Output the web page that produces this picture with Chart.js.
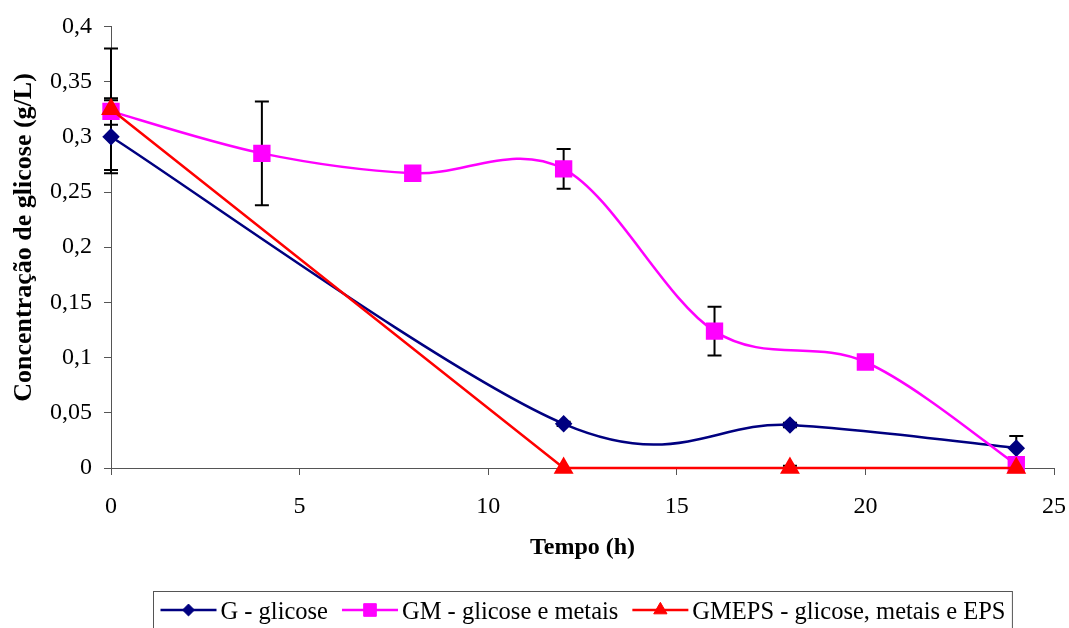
<!DOCTYPE html>
<html>
<head>
<meta charset="utf-8">
<script src="https://cdn.jsdelivr.net/npm/chart.js@4.4.1/dist/chart.umd.min.js"></script>
<style>
  body { margin: 0; background: #fff; }
</style>
</head>
<body>
<canvas id="chart" width="1069" height="628"></canvas>
<script>
// tempo (h) e concentração de glicose (g/L), com desvio
const timeG = [0, 12, 18, 24];
const glicoseG = [0.300, 0.040, 0.039, 0.018];
const errG = [0.033, 0.002, 0.002, 0.011];

const timeGM = [0, 4, 8, 12, 16, 20, 24];
const glicoseGM = [0.323, 0.285, 0.267, 0.271, 0.124, 0.096, 0.003];
const errGM = [0.012, 0.047, 0.005, 0.018, 0.022, 0.003, 0.003];

const timeGMEPS = [0, 12, 18, 24];
const glicoseGMEPS = [0.325, 0, 0, 0];
const errGMEPS = [0.055, 0, 0.002, 0];

const xTicks = [0, 5, 10, 15, 20, 25];
const yTicks = [0, 0.05, 0.1, 0.15, 0.2, 0.25, 0.3, 0.35, 0.4];

const seriesLabels = ['G - glicose', 'GM - glicose e metais', 'GMEPS - glicose, metais e EPS'];

const FONT = 'Liberation Serif, Times New Roman, serif';

function points(xs, ys) {
    return xs.map((x, i) => ({ x: x, y: ys[i] }));
}

function fmt(v) {
    return String(+v.toFixed(2)).replace('.', ',');
}

// suavização parecida com a do Excel (Catmull-Rom, 1/6)
const excelSmooth = {
    id: 'excelSmooth',
    beforeDatasetsDraw(chart) {
        chart.data.datasets.forEach((ds, di) => {
            if (!ds.smooth) return;
            const meta = chart.getDatasetMeta(di);
            meta.dataset.updateControlPoints(chart.chartArea, 'x');
            const pts = meta.data;
            pts.forEach((p, i) => {
                const prev = pts[Math.max(i - 1, 0)];
                const next = pts[Math.min(i + 1, pts.length - 1)];
                const dx = (next.x - prev.x) / 6;
                const dy = (next.y - prev.y) / 6;
                p.cp1x = p.x - dx; p.cp1y = p.y - dy;
                p.cp2x = p.x + dx; p.cp2y = p.y + dy;
            });
        });
    }
};

// barras de erro desenhadas por baixo dos marcadores
const errorBars = {
    id: 'errorBars',
    beforeDatasetsDraw(chart) {
        const ctx = chart.ctx;
        const xs = chart.scales.x;
        const ys = chart.scales.y;
        ctx.save();
        ctx.strokeStyle = '#000';
        ctx.lineWidth = 2;
        chart.data.datasets.forEach(ds => {
            ds.data.forEach((p, i) => {
                const e = ds.errors[i];
                if (!e) return;
                const px = xs.getPixelForValue(p.x);
                const top = ys.getPixelForValue(p.y + e);
                const bot = ys.getPixelForValue(Math.max(p.y - e, 0));
                ctx.beginPath();
                ctx.moveTo(px, top);
                ctx.lineTo(px, bot);
                ctx.moveTo(px - 7, top);
                ctx.lineTo(px + 7, top);
                if (p.y - e >= 0) {
                    ctx.moveTo(px - 7, bot);
                    ctx.lineTo(px + 7, bot);
                }
                ctx.stroke();
            });
        });
        ctx.restore();
    }
};

// legenda no estilo do Excel: linha com marcador, dentro de uma caixa
const boxLegend = {
    id: 'boxLegend',
    afterDraw(chart) {
        const ctx = chart.ctx;
        const area = chart.chartArea;
        ctx.save();
        ctx.font = '24.5px ' + FONT;
        const lineLen = 56, gap = 4, itemGap = 14, pad = 7;
        const widths = chart.data.datasets.map(ds => ctx.measureText(ds.label).width);
        let total = widths.reduce((s, w) => s + lineLen + gap + w, 0) + itemGap * (widths.length - 1);
        const boxW = total + pad * 2;
        const boxX = Math.round((area.left + area.right) / 2 - boxW / 2) + 0.5;
        const boxY = 591.5;
        ctx.strokeStyle = '#555';
        ctx.lineWidth = 1;
        ctx.strokeRect(boxX, boxY, boxW, 60);

        let x = boxX + pad;
        const cy = 610;
        chart.data.datasets.forEach((ds, i) => {
            ctx.strokeStyle = ds.borderColor;
            ctx.lineWidth = 2.5;
            ctx.beginPath();
            ctx.moveTo(x, cy);
            ctx.lineTo(x + lineLen, cy);
            ctx.stroke();
            ctx.fillStyle = ds.pointBackgroundColor;
            ctx.strokeStyle = ds.pointBorderColor;
            ctx.lineWidth = 1;
            Chart.helpers.drawPoint(ctx, {
                pointStyle: ds.pointStyle,
                radius: ds.pointRadius * 0.85,
                borderWidth: 1,
                rotation: 0
            }, x + lineLen / 2, cy);
            ctx.fillStyle = '#000';
            ctx.textBaseline = 'alphabetic';
            ctx.textAlign = 'left';
            ctx.fillText(ds.label, x + lineLen + gap, 619);
            x += lineLen + gap + widths[i] + itemGap;
        });
        ctx.restore();
    }
};

const ctx = document.getElementById('chart').getContext('2d');
const chart = new Chart(ctx, {
    type: 'line',
    data: {
        datasets: [{
            label: seriesLabels[0],
            data: points(timeG, glicoseG),
            errors: errG,
            smooth: true,
            borderColor: '#000080',
            backgroundColor: '#000080',
            pointBackgroundColor: '#000080',
            pointBorderColor: '#000080',
            pointStyle: 'rectRot',
            pointRadius: 7,
            borderWidth: 2.5,
            tension: 0.4,
            clip: false,
            order: 2
        }, {
            label: seriesLabels[1],
            data: points(timeGM, glicoseGM),
            errors: errGM,
            smooth: true,
            borderColor: '#FF00FF',
            backgroundColor: '#FF00FF',
            pointBackgroundColor: '#FF00FF',
            pointBorderColor: '#FF00FF',
            pointStyle: 'rect',
            pointRadius: 10.5,
            borderWidth: 2.5,
            tension: 0.4,
            clip: false,
            order: 1
        }, {
            label: seriesLabels[2],
            data: points(timeGMEPS, glicoseGMEPS),
            errors: errGMEPS,
            borderColor: '#FF0000',
            backgroundColor: '#FF0000',
            pointBackgroundColor: '#FF0000',
            pointBorderColor: '#FF0000',
            pointStyle: 'triangle',
            pointRadius: 9,
            borderWidth: 2.5,
            tension: 0,
            clip: false,
            order: 0
        }]
    },
    options: {
        responsive: false,
        animation: false,
        layout: { padding: { top: 25, right: 15, bottom: 36, left: 0 } },
        plugins: {
            legend: { display: false },
            tooltip: { enabled: false }
        },
        scales: {
            x: {
                type: 'linear',
                min: 0,
                max: 25,
                afterBuildTicks: s => { s.ticks = xTicks.map(v => ({ value: v })); },
                afterFit: s => { s.height = 124; s.paddingRight = 0; s.paddingLeft = 0; },
                ticks: {
                    color: '#000',
                    padding: 17,
                    maxRotation: 0,
                    font: { family: FONT, size: 24 }
                },
                grid: { drawOnChartArea: false, drawTicks: true, tickLength: 7, color: '#555' },
                border: { color: '#555', width: 1 },
                title: {
                    display: true,
                    text: 'Tempo (h)',
                    color: '#000',
                    font: { family: FONT, size: 24, weight: 'bold' },
                    padding: { top: 0, bottom: 30 }
                }
            },
            y: {
                min: 0,
                max: 0.4,
                afterBuildTicks: s => { s.ticks = yTicks.map(v => ({ value: v })); },
                afterFit: s => { s.width = 111; },
                ticks: {
                    color: '#000',
                    padding: 12,
                    font: { family: FONT, size: 24 },
                    callback: v => fmt(v)
                },
                grid: { drawOnChartArea: false, drawTicks: true, tickLength: 7, color: '#555' },
                border: { color: '#555', width: 1 },
                title: {
                    display: true,
                    text: '   Concentração de glicose (g/L)',
                    color: '#000',
                    font: { family: FONT, size: 26, weight: 'bold' },
                    padding: { top: 9, bottom: 0 }
                }
            }
        }
    },
    plugins: [excelSmooth, errorBars, boxLegend]
});
</script>
</body>
</html>
